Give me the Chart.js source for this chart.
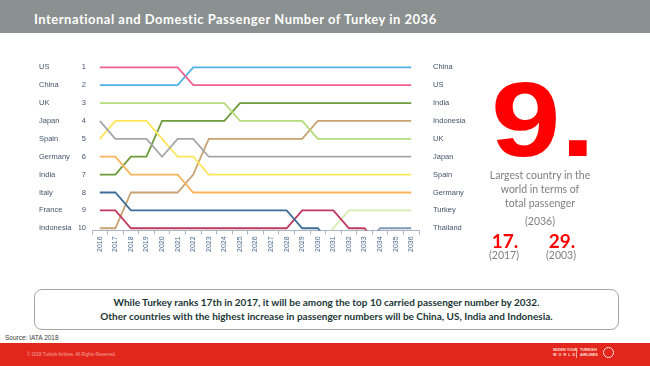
<!DOCTYPE html>
<html><head><meta charset="utf-8">
<script src="https://cdn.jsdelivr.net/npm/chart.js@4.4.1/dist/chart.umd.min.js"></script>
<style>
html,body{margin:0;padding:0;width:650px;height:366px;overflow:hidden;background:#fff;font-family:Lato,'Open Sans',sans-serif;}
.abs{position:absolute;white-space:nowrap;}
#hdr{position:absolute;left:0;top:0;width:650px;height:33px;background:#8b9090;}
#title{left:34px;top:10px;color:#fff;font-size:13px;font-weight:700;line-height:18px;letter-spacing:0.5px;}
#cw{position:absolute;left:0;top:40px;width:485px;height:230px;}
#big{left:491px;top:66px;color:#ff0000;font-family:'Liberation Sans',Arial,sans-serif;font-weight:700;font-size:106px;line-height:106px;transform-origin:0 0;transform:scaleX(1.18);}
.gl{color:#7f7f7f;font-size:10.5px;line-height:14px;text-align:center;width:140px;left:470px;}
.rd{color:#ff0000;font-weight:700;font-size:19px;line-height:22px;text-align:center;width:60px;}
.gs{color:#7f7f7f;font-size:10.5px;line-height:14px;text-align:center;width:60px;}
#box{position:absolute;left:34px;top:289px;width:583px;height:39px;border:1px solid #a6a6a6;border-radius:8px;}
.bt{color:#1c3636;font-weight:700;font-size:10px;line-height:14px;text-align:center;width:585px;left:34px;}
#src{left:5px;top:334px;font-family:'Liberation Sans',Arial,sans-serif;font-size:6.5px;line-height:8px;color:#404040;}
#foot{position:absolute;left:0;top:343px;width:650px;height:23px;background:#e2261c;}
#copy{left:27px;top:352px;font-family:'Liberation Sans',Arial,sans-serif;font-size:4.5px;line-height:6px;color:#f4a6a0;}
.lg{font-family:'Liberation Sans',Arial,sans-serif;font-weight:700;color:#fbe0de;font-size:3.8px;line-height:5px;}
</style></head>
<body>
<div id="hdr"></div>
<div id="title" class="abs">International and Domestic Passenger Number of Turkey in 2036</div>
<div id="cw"><canvas id="c" width="485" height="230"></canvas></div>

<div id="big" class="abs">9.</div>
<div class="abs gl" style="top:168px">Largest country in the</div>
<div class="abs gl" style="top:182px">world in terms of</div>
<div class="abs gl" style="top:196px">total passenger</div>
<div class="abs gl" style="top:214px">(2036)</div>
<div class="abs rd" style="left:475px;top:230px">17.</div>
<div class="abs gs" style="left:474px;top:248px">(2017)</div>
<div class="abs rd" style="left:532px;top:230px">29.</div>
<div class="abs gs" style="left:531px;top:248px">(2003)</div>

<div id="box"></div>
<div class="abs bt" style="top:295px">While Turkey ranks 17th in 2017, it will be among the top 10 carried passenger number by 2032.</div>
<div class="abs bt" style="top:309px">Other countries with the highest increase in passenger numbers will be China, US, India and Indonesia.</div>
<div id="src" class="abs">Source: IATA 2018</div>
<div id="foot"></div>
<div id="copy" class="abs">© 2018 Turkish Airlines. All Rights Reserved.</div>
<div class="abs lg" style="left:553px;top:348px">WIDEN YOUR</div>
<div class="abs lg" style="left:553px;top:353px;letter-spacing:2px">WORLD</div>
<div class="abs" style="left:576px;top:348px;width:1px;height:10px;background:#f4a6a0"></div>
<div class="abs lg" style="left:580px;top:348px">TURKISH</div>
<div class="abs lg" style="left:580px;top:353px">AIRLINES</div>
<div class="abs" style="left:603px;top:347px;width:9px;height:9px;border:1px solid #fbe0de;border-radius:50%"></div>

<script>
// Years (x categories)
const years = ['2016','2017','2018','2019','2020','2021','2022','2023','2024','2025','2026','2027','2028','2029','2030','2031','2032','2033','2034','2035','2036'];
// Rank tick values and labels
const rankTicks = [1,2,3,4,5,6,7,8,9,10];
const startNames = ['US','China','UK','Japan','Spain','Germany','India','Italy','France','Indonesia'];
const endNames = ['China','US','India','Indonesia','UK','Japan','Spain','Germany','Turkey','Thailand'];

// Ranks by year 2016..2036 (11 = dropped out of top 10)
const usRank        = [1,1,1,1,1,1,2,2,2,2,2,2,2,2,2,2,2,2,2,2,2];
const chinaRank     = [2,2,2,2,2,2,1,1,1,1,1,1,1,1,1,1,1,1,1,1,1];
const ukRank        = [3,3,3,3,3,3,3,3,3,4,4,4,4,4,5,5,5,5,5,5,5];
const japanRank     = [4,5,5,5,6,5,5,6,6,6,6,6,6,6,6,6,6,6,6,6,6];
const spainRank     = [5,4,4,4,5,6,6,7,7,7,7,7,7,7,7,7,7,7,7,7,7];
const germanyRank   = [6,6,7,7,7,7,8,8,8,8,8,8,8,8,8,8,8,8,8,8,8];
const indiaRank     = [7,7,6,6,4,4,4,4,4,3,3,3,3,3,3,3,3,3,3,3,3];
const italyRank     = [8,8,9,9,9,9,9,9,9,9,9,9,9,10,10,11,null,null,null,null,null];
const franceRank    = [9,9,10,10,10,10,10,10,10,10,10,10,10,9,9,9,10,10,11,null,null];
const indonesiaRank = [10,10,8,8,8,8,7,5,5,5,5,5,5,5,4,4,4,4,4,4,4];
const turkeyRank    = [null,null,null,null,null,null,null,null,null,null,null,null,null,null,11,10,9,9,9,9,9];
const thailandRank  = [null,null,null,null,null,null,null,null,null,null,null,null,null,null,null,null,null,11,10,10,10];

const seriesNames  = ['US','China','UK','Japan','Spain','Germany','India','Italy','France','Indonesia','Turkey','Thailand'];
const seriesData   = [usRank,chinaRank,ukRank,japanRank,spainRank,germanyRank,indiaRank,italyRank,franceRank,indonesiaRank,turkeyRank,thailandRank];
const seriesColors = ['#f06292','#4fb4e6','#b5dc7c','#a6a6a6','#ffe65a','#fbb45c','#6f9c3a','#3d6e98','#c0395e','#c8a273','#d6edb0','#7f97b2'];

const axisFont = {family:"'Liberation Sans', Arial, sans-serif", size:7.5};
const axisColor = '#44546a';
const yCommon = {
  reverse:true, min:1, max:10.12,
  grid:{display:false, drawTicks:false}, border:{display:false},
  afterBuildTicks(s){ s.ticks = rankTicks.map(v=>({value:v})); }
};

new Chart(document.getElementById('c'), {
  type:'line',
  data:{
    labels:years,
    datasets:seriesNames.map((n,i)=>({
      label:n, data:seriesData[i], borderColor:seriesColors[i], backgroundColor:seriesColors[i],
      borderWidth:1.8, pointRadius:0, tension:0, fill:false, spanGaps:false,
      clip:{left:4,top:3,right:4,bottom:0}
    }))
  },
  options:{
    responsive:false, animation:false,
    layout:{padding:{left:39, top:27.3, right:6, bottom:9.6}},
    plugins:{legend:{display:false}, tooltip:{enabled:false}},
    scales:{
      x:{
        type:'category', offset:true,
        grid:{offset:true, drawOnChartArea:false, drawTicks:true, tickLength:4, color:'#aab4c4'},
        border:{color:'#aab4c4', width:1},
        ticks:{autoSkip:false, maxRotation:90, minRotation:90, font:{family:"'Liberation Sans', Arial, sans-serif", size:7}, color:'#4a6a8f', padding:2},
        afterFit(s){ s.height = 30; }
      },
      y:Object.assign({}, yCommon, {
        position:'left', weight:0,
        ticks:{callback:(v,i)=>String(rankTicks[i]), padding:6, font:axisFont, color:axisColor},
        afterFit(s){ s.width = 13; }
      }),
      yNames:Object.assign({}, yCommon, {
        position:'left', weight:1,
        ticks:{crossAlign:'far', callback:(v,i)=>startNames[i], padding:0, font:axisFont, color:axisColor},
        afterFit(s){ s.width = 40; }
      }),
      yEnd:Object.assign({}, yCommon, {
        position:'right',
        ticks:{callback:(v,i)=>endNames[i], padding:14, font:axisFont, color:axisColor},
        afterFit(s){ s.width = 60; }
      })
    }
  }
});
</script>
</body></html>
